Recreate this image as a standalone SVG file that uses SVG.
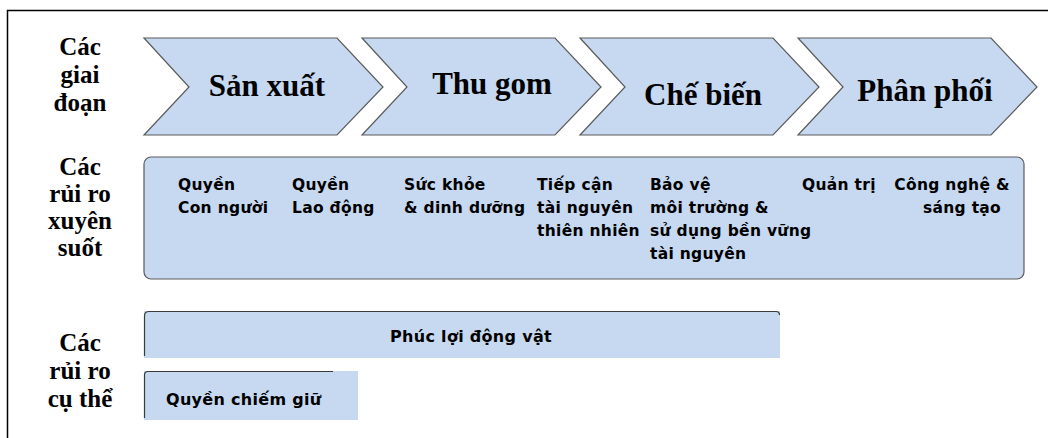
<svg xmlns="http://www.w3.org/2000/svg" width="1048" height="438" viewBox="0 0 1048 438">
<style>
.bg{fill:#ffffff}
.frame{fill:none;stroke:#000;stroke-width:1.5}
.chev{fill:#C6D9F1;stroke:#5a5a5a;stroke-width:1.2}
.box{fill:#C6D9F1;stroke:#5a5a5a;stroke-width:1.2}
.flat{fill:#C6D9F1}
.edge{fill:none;stroke:#3a3a3a;stroke-width:1.2}
.stage{font-family:"Liberation Serif",serif;font-weight:bold;font-size:31px;fill:#000;text-anchor:middle}
.side{font-family:"Liberation Serif",serif;font-weight:bold;font-size:25px;fill:#000;text-anchor:middle}
.risk{font-family:"DejaVu Sans",sans-serif;font-weight:bold;font-size:15.5px;letter-spacing:0.3px;fill:#000}
.spec{font-family:"DejaVu Sans",sans-serif;font-weight:bold;font-size:16px;letter-spacing:0.3px;fill:#000}
</style>
<rect class="bg" x="0" y="0" width="1048" height="438"/>
<path class="frame" d="M7.5,438 V10.5 H1048"/>

<g id="label-stages">
<text class="side" x="80" y="55">Các</text>
<text class="side" x="80" y="83">giai</text>
<text class="side" x="80" y="111">đoạn</text>
</g>
<g id="label-crosscutting">
<text class="side" x="80" y="175">Các</text>
<text class="side" x="80" y="202">rủi ro</text>
<text class="side" x="80" y="229">xuyên</text>
<text class="side" x="80" y="256">suốt</text>
</g>
<g id="label-specific">
<text class="side" x="80" y="351">Các</text>
<text class="side" x="80" y="379">rủi ro</text>
<text class="side" x="80" y="407">cụ thể</text>
</g>

<g id="stage-san-xuat">
<polygon class="chev" points="144,38 337,38 383,87 337,135 144,135 189,87"/>
<text class="stage" x="267" y="96">Sản xuất</text>
</g>
<g id="stage-thu-gom">
<polygon class="chev" points="362,38 555,38 601,87 555,135 362,135 407,87"/>
<text class="stage" x="492" y="94">Thu gom</text>
</g>
<g id="stage-che-bien">
<polygon class="chev" points="580,38 773,38 819,87 773,135 580,135 625,87"/>
<text class="stage" x="703" y="105">Chế biến</text>
</g>
<g id="stage-phan-phoi">
<polygon class="chev" points="798,38 991,38 1037,87 991,135 798,135 843,87"/>
<text class="stage" x="925" y="101">Phân phối</text>
</g>

<g id="crosscutting-risks">
<rect class="box" x="144" y="157" width="880" height="122" rx="7" ry="7"/>
<text class="risk" x="178" y="190">Quyền</text>
<text class="risk" x="178" y="213">Con người</text>
<text class="risk" x="292" y="190">Quyền</text>
<text class="risk" x="292" y="213">Lao động</text>
<text class="risk" x="404" y="190">Sức khỏe</text>
<text class="risk" x="404" y="213">&amp; dinh dưỡng</text>
<text class="risk" x="537" y="190">Tiếp cận</text>
<text class="risk" x="537" y="213">tài nguyên</text>
<text class="risk" x="537" y="236">thiên nhiên</text>
<text class="risk" x="650" y="190">Bảo vệ</text>
<text class="risk" x="650" y="213">môi trường &amp;</text>
<text class="risk" x="650" y="236">sử dụng bền vững</text>
<text class="risk" x="650" y="259">tài nguyên</text>
<text class="risk" x="802" y="190">Quản trị</text>
<text class="risk" x="952" y="190" text-anchor="middle">Công nghệ &amp;</text>
<text class="risk" x="962" y="213" text-anchor="middle">sáng tạo</text>
</g>

<g id="risk-animal-welfare">
<rect class="flat" x="144" y="311" width="636" height="47"/>
<path class="edge" d="M144.5,356 V316 Q144.5,311.5 149,311.5 H776 Q779.5,311.5 779.5,315"/>
<text class="spec" x="471" y="342" text-anchor="middle">Phúc lợi động vật</text>
</g>
<g id="risk-land-rights">
<rect class="flat" x="144" y="371" width="214" height="49"/>
<path class="edge" d="M144.5,418 V375 Q144.5,371.5 148,371.5 H333"/>
<text class="spec" x="166" y="405">Quyền chiếm giữ</text>
</g>
</svg>
